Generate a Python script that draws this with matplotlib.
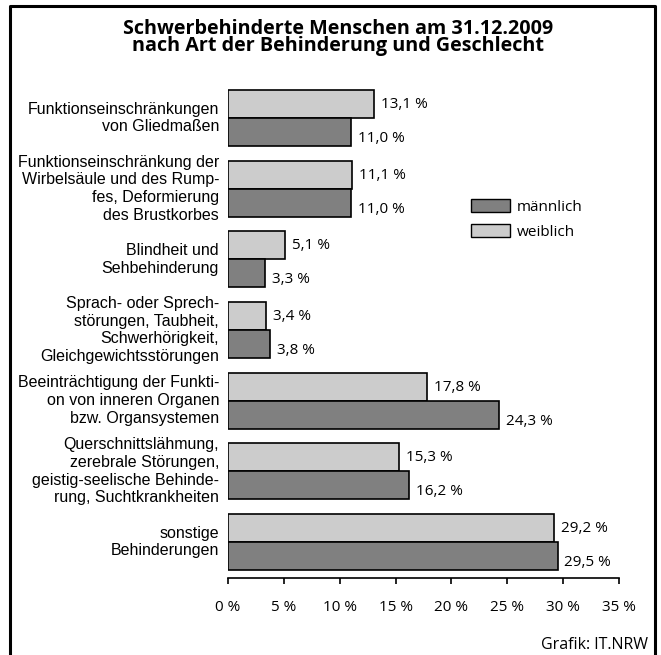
import numpy as np
import matplotlib
matplotlib.use('Agg')
import matplotlib.pyplot as plt
from matplotlib.patches import Patch
from matplotlib.lines import Line2D


categories = [
    'Funktionseinschränkungen\nvon Gliedmaßen',
    'Funktionseinschränkung der\nWirbelsäule und des Rump-\nfes, Deformierung\ndes Brustkorbes',
    'Blindheit und\nSehbehinderung',
    'Sprach- oder Sprech-\nstörungen, Taubheit,\nSchwerhörigkeit,\nGleichgewichtsstörungen',
    'Beeinträchtigung der Funkti-\non von inneren Organen\nbzw. Organsystemen',
    'Querschnittslähmung,\nzerebrale Störungen,\ngeistig-seelische Behinde-\nrung, Suchtkrankheiten',
    'sonstige\nBehinderungen',
]
weiblich = [13.1, 11.1, 5.1, 3.4, 17.8, 15.3, 29.2]
maennlich = [11.0, 11.0, 3.3, 3.8, 24.3, 16.2, 29.5]
xticks = [0, 5, 10, 15, 20, 25, 30, 35]

W, H = 661, 655


def fmt(v):
    return f'{v:.1f}'.replace('.', ',') + ' %'


def main():
    fig = plt.figure(figsize=(W / 100, H / 100), dpi=100)
    fig.patch.set_facecolor('white')

    # frame open at the bottom
    fig.add_artist(Line2D([10 / W, 10 / W, 655 / W, 655 / W],
                          [0, 1 - 6 / H, 1 - 6 / H, 0],
                          transform=fig.transFigure, color='black', lw=2.2))

    fig.text(338 / W, 1 - 51.5 / H,
             'Schwerbehinderte Menschen am 31.12.2009\nnach Art der Behinderung und Geschlecht',
             ha='center', va='baseline', fontsize=14.2, fontweight='bold',
             family='Open Sans', linespacing=0.8, multialignment='center')

    ax = fig.add_axes([228 / W, (H - 578) / H, 391 / W, 498 / H])
    y = np.arange(len(categories))
    h = 0.396
    ax.barh(y - h / 2, weiblich, height=h, color='#cccccc', edgecolor='black',
            linewidth=1.2, label='weiblich')
    ax.barh(y + h / 2, maennlich, height=h, color='#808080', edgecolor='black',
            linewidth=1.2, label='männlich')

    for i in range(len(categories)):
        ax.text(weiblich[i] + 0.6, y[i] - h / 2 + 0.057, fmt(weiblich[i]),
                va='baseline', ha='left', fontsize=11, family='Open Sans')
        ax.text(maennlich[i] + 0.6, y[i] + h / 2 + 0.14, fmt(maennlich[i]),
                va='baseline', ha='left', fontsize=11, family='Open Sans')
        ax.text(-0.8, y[i], categories[i], ha='right', va='center',
                fontsize=11.5, family='Liberation Sans', linespacing=1.23)

    ax.set_xlim(0, 35)
    ax.set_ylim(6.51, -0.538)
    ax.set_xticks(xticks)
    ax.set_xticklabels([f'{t} %' for t in xticks], family='Open Sans', fontsize=11)
    ax.tick_params(axis='x', length=4, width=1.2, pad=11.5, direction='out')
    ax.set_yticks([])
    for s in ['top', 'right', 'left']:
        ax.spines[s].set_visible(False)
    ax.spines['bottom'].set_linewidth(1.2)
    ax.patch.set_alpha(0)

    handles = [Patch(facecolor='#808080', edgecolor='black', label='männlich'),
               Patch(facecolor='#cccccc', edgecolor='black', label='weiblich')]
    fig.legend(handles=handles, loc='upper left',
               bbox_to_anchor=(465 / W, 1 - 193 / H), frameon=False,
               prop={'family': 'Open Sans', 'size': 11},
               handlelength=2.55, handleheight=0.92, labelspacing=0.6,
               handletextpad=0.45, borderaxespad=0)

    fig.text(648 / W, 1 - 649 / H, 'Grafik: IT.NRW', ha='right', va='baseline',
             fontsize=11.5, family='Open Sans')

    fig.savefig('out.png', dpi=100)


if __name__ == '__main__':
    main()
